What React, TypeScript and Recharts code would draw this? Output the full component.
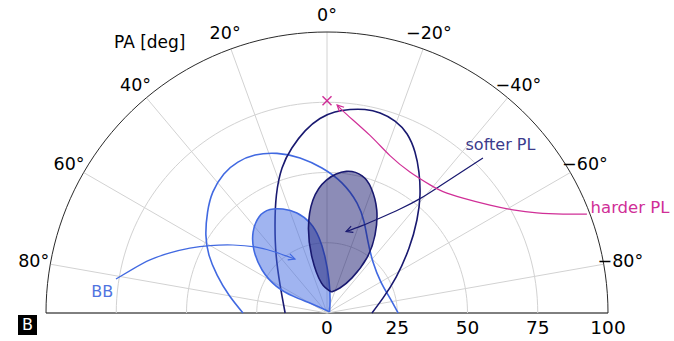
import { ScatterChart, Scatter, XAxis, YAxis, ReferenceDot } from "recharts";

type XY = [number, number];

// PA grid (deg, counted anticlockwise from the top) and radial grid
const paTicks = [80, 60, 40, 20, 0, -20, -40, -60, -80];
const radialTicks = [0, 25, 50, 75, 100];
const innerRings = [25, 50, 75];
const rMax = 100;

// contours: x to the right, y up, in radial units
const bbCore: XY[] = [
  [0.9, 0.4], [-5.3, 3.2], [-12.1, 6.0], [-18.1, 9.6], [-23.1, 15.3],
  [-26.0, 22.4], [-26.3, 28.8], [-24.2, 34.2], [-20.3, 36.8], [-15.7, 37.0],
  [-10.7, 35.6], [-6.0, 32.0], [-2.8, 26.7], [-0.7, 19.9], [0.7, 11.7],
  [1.1, 4.6], [0.9, 0.4],
];
const bbOuter: XY[] = [
  [-29.9, 0], [-34.9, 6.4], [-39.1, 13.5], [-42.0, 20.6], [-43.1, 27.8],
  [-42.5, 35.9], [-40.6, 43.1], [-36.7, 49.5], [-31.7, 53.7], [-25.6, 56.2],
  [-17.8, 56.8], [-9.6, 55.2], [-1.8, 51.6], [5.3, 46.3], [10.7, 39.1],
  [13.2, 32.4], [14.6, 25.3], [16.4, 18.1], [19.2, 11.0], [22.4, 5.3], [25.3, 0],
];
const softCore: XY[] = [
  [1.6, 7.5], [-2.0, 10.7], [-5.3, 19.6], [-6.6, 30.2], [-5.0, 40.2],
  [-0.2, 47.3], [6.9, 50.4], [12.5, 48.8], [15.7, 44.5], [17.7, 36.7],
  [17.1, 27.8], [14.2, 19.6], [8.9, 12.5], [4.6, 8.9], [1.6, 7.5],
];
const softOuter: XY[] = [
  [-14.9, 0], [-16.7, 10.0], [-18.1, 20.6], [-18.5, 31.3], [-18.0, 42.0],
  [-16.0, 51.6], [-12.5, 58.7], [-7.8, 64.8], [-2.5, 69.2], [2.8, 71.5],
  [8.2, 72.4], [13.5, 72.4], [18.9, 71.2], [24.2, 68.3], [28.5, 63.7],
  [31.3, 57.3], [32.7, 50.2], [33.1, 42.0], [32.0, 33.1], [29.2, 23.1],
  [24.6, 12.8], [19.9, 5.3], [16.0, 0],
];
const hardBest: XY[] = [[0, 75.5]];

// annotation arrows, from the text to the head
const bbArrow: XY[] = [
  [-75.1, 12.1], [-69.0, 15.7], [-63.0, 18.9], [-55.9, 21.4], [-48.8, 23.1],
  [-41.6, 24.0], [-33.5, 24.2], [-25.6, 23.5], [-18.5, 21.7], [-11.4, 19.2],
];
const softArrow: XY[] = [
  [55.5, 55.2], [47.3, 49.8], [40.2, 45.2], [33.1, 40.7], [26.0, 37.0],
  [18.9, 33.8], [12.5, 31.1], [6.8, 29.0],
];
const hardArrow: XY[] = [
  [92.5, 35.2], [84.0, 35.2], [74.7, 35.6], [66.2, 36.7], [58.0, 38.4],
  [48.4, 40.9], [41.3, 43.2], [36.7, 45.6], [29.5, 50.2], [22.4, 56.0],
  [15.3, 63.2], [7.2, 70.5], [3.6, 74.0],
];

const NAVY = "#191970";
const BLUE = "#4169e1";
const PINK = "#d02f97";

const toPts = (a: XY[]) => a.map(([x, y]) => ({ x, y }));
const polar = (r: number, pa: number) => {
  const t = (pa * Math.PI) / 180;
  return { x: -r * Math.sin(t), y: r * Math.cos(t) };
};

const arcPa: number[] = [];
for (let pa = -90; pa <= 90; pa += 2) arcPa.push(pa);
const ring = (r: number) => arcPa.map((pa) => polar(r, pa));

const arrowHead = (path: XY[]) => {
  const [x1, y1] = path[path.length - 2];
  const [x2, y2] = path[path.length - 1];
  const a = Math.atan2(y2 - y1, x2 - x1);
  const len = 2.6;
  const w = (s: number) => ({
    x: x2 - len * Math.cos(a + s * 0.46),
    y: y2 - len * Math.sin(a + s * 0.46),
  });
  return [w(1), { x: x2, y: y2 }, w(-1)];
};

const fmtPa = (pa: number) => (pa < 0 ? `\u2212${-pa}°` : `${pa}°`);

const noDot = () => <g />;

const Cross = (props: any) => {
  const { cx, cy } = props;
  const s = 4.5;
  return (
    <g stroke={PINK} strokeWidth={1.4}>
      <line x1={cx - s} y1={cy - s} x2={cx + s} y2={cy + s} />
      <line x1={cx - s} y1={cy + s} x2={cx + s} y2={cy - s} />
    </g>
  );
};

const textAt =
  (value: string, color: string, size: number, anchor: "start" | "middle" = "middle") =>
  (props: any) => (
    <text
      x={props.cx}
      y={props.cy}
      textAnchor={anchor}
      dominantBaseline="central"
      fontSize={size}
      fill={color}
    >
      {value}
    </text>
  );

export default function App() {
  return (
    <div
      style={{
        position: "absolute",
        left: 0,
        top: 0,
        width: 674,
        height: 341,
        background: "#fff",
        fontFamily: "'DejaVu Sans', sans-serif",
      }}
    >
      <ScatterChart
        width={674}
        height={341}
        margin={{ top: 32, right: 66, bottom: 0, left: 46 }}
      >
        <XAxis
          type="number"
          dataKey="x"
          domain={[-100, 100]}
          ticks={radialTicks}
          height={28}
          axisLine={{ stroke: "#000", strokeWidth: 1 }}
          tickLine={false}
          tick={{ fontSize: 18.5, fill: "#000" }}
        />
        <YAxis type="number" dataKey="y" domain={[0, 100]} hide />

        {paTicks.map((pa) => (
          <Scatter
            key={`spoke${pa}`}
            data={[polar(0, pa), polar(rMax, pa)]}
            line={{ stroke: "#d2d2d2", strokeWidth: 1 }}
            shape={noDot}
            isAnimationActive={false}
          />
        ))}
        {innerRings.map((r) => (
          <Scatter
            key={`ring${r}`}
            data={ring(r)}
            line={{ stroke: "#d2d2d2", strokeWidth: 1 }}
            shape={noDot}
            isAnimationActive={false}
          />
        ))}
        <Scatter
          data={ring(rMax)}
          line={{ stroke: "#2a2a2a", strokeWidth: 1 }}
          shape={noDot}
          isAnimationActive={false}
        />

        <Scatter
          data={toPts(bbOuter)}
          line={{ stroke: BLUE, strokeWidth: 1.6 }}
          lineJointType="natural"
          shape={noDot}
          isAnimationActive={false}
        />
        <Scatter
          data={toPts(softOuter)}
          line={{ stroke: NAVY, strokeWidth: 1.6 }}
          lineJointType="natural"
          shape={noDot}
          isAnimationActive={false}
        />
        <Scatter
          data={toPts(bbCore)}
          line={{ stroke: BLUE, strokeWidth: 1.6, fill: BLUE, fillOpacity: 0.5 }}
          lineJointType="natural"
          shape={noDot}
          isAnimationActive={false}
        />
        <Scatter
          data={toPts(softCore)}
          line={{ stroke: NAVY, strokeWidth: 1.6, fill: NAVY, fillOpacity: 0.5 }}
          lineJointType="natural"
          shape={noDot}
          isAnimationActive={false}
        />

        {[
          { path: bbArrow, color: BLUE },
          { path: softArrow, color: NAVY },
          { path: hardArrow, color: PINK },
        ].map(({ path, color }, i) => [
          <Scatter
            key={`arrow${i}`}
            data={toPts(path)}
            line={{ stroke: color, strokeWidth: 1.2 }}
            lineJointType="natural"
            shape={noDot}
            isAnimationActive={false}
          />,
          <Scatter
            key={`head${i}`}
            data={arrowHead(path)}
            line={{ stroke: color, strokeWidth: 1.2 }}
            shape={noDot}
            isAnimationActive={false}
          />,
        ])}

        <Scatter data={toPts(hardBest)} shape={Cross} isAnimationActive={false} />

        {paTicks.map((pa) => {
          const p = polar(106, pa);
          return (
            <ReferenceDot
              key={`lab${pa}`}
              x={p.x}
              y={p.y}
              r={0}
              ifOverflow="visible"
              shape={textAt(fmtPa(pa), "#000", 17.5)}
            />
          );
        })}
        <ReferenceDot x={49.3} y={59.8} r={0} ifOverflow="visible" shape={textAt("softer PL", "#3b3b8c", 16, "start")} />
        <ReferenceDot x={93.8} y={37.7} r={0} ifOverflow="visible" shape={textAt("harder PL", PINK, 16.5, "start")} />
        <ReferenceDot x={-80} y={7.6} r={0} ifOverflow="visible" shape={textAt("BB", "#4f74e0", 16)} />
      </ScatterChart>

      <div
        style={{
          position: "absolute",
          left: 114,
          top: 32,
          fontSize: 17,
          lineHeight: "20px",
          color: "#000",
          whiteSpace: "nowrap",
        }}
      >
        PA [deg]
      </div>
      <div
        style={{
          position: "absolute",
          left: 18,
          top: 315,
          width: 19,
          height: 20,
          background: "#000",
          color: "#fff",
          fontSize: 16,
          lineHeight: "20px",
          textAlign: "center",
        }}
      >
        B
      </div>
    </div>
  );
}
